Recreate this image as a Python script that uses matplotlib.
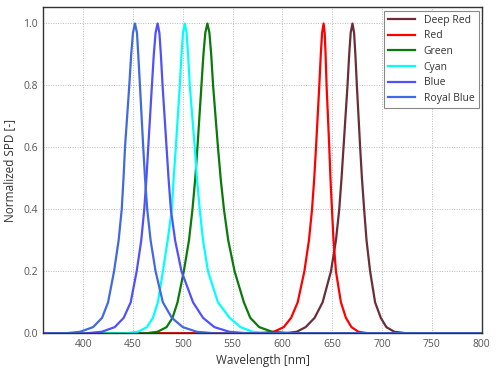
import matplotlib
matplotlib.use("Agg")
import matplotlib.pyplot as plt

plt.rcParams['font.family'] = ['Open Sans', 'DejaVu Sans']

# ---- data (wavelength [nm], normalized SPD) ----
deep_red_wl = [360, 602, 614.3, 623.3, 632.3, 640.3, 648.7, 653.7, 657, 659.3, 661.3, 665.3, 667, 668.5, 670.3,
               671.9, 673.2, 674.7, 678, 679.8, 682, 684.4, 688, 693, 698.7, 704.3, 712.3, 725, 800]
deep_red_v = [0, 0, 0.005, 0.02, 0.05, 0.1, 0.2, 0.3, 0.4, 0.5, 0.6, 0.8, 0.9, 0.97, 1.0,
              0.97, 0.9, 0.8, 0.6, 0.5, 0.4, 0.3, 0.2, 0.1, 0.05, 0.02, 0.005, 0, 0]

red_wl = [360, 576.3, 591.3, 601.3, 608.7, 615.3, 622, 626.6, 629.7, 631.9, 633.7, 637, 638.5, 639.8, 641.3,
          642.4, 643.3, 644.3, 647, 648.2, 649.7, 651.3, 653.7, 658.7, 663.7, 669.3, 676.3, 686, 800]
red_v = [0, 0, 0.005, 0.02, 0.05, 0.1, 0.2, 0.3, 0.4, 0.5, 0.6, 0.8, 0.9, 0.97, 1.0,
         0.97, 0.9, 0.8, 0.6, 0.5, 0.4, 0.3, 0.2, 0.1, 0.05, 0.02, 0.005, 0, 0]

green_wl = [360, 462.7, 474.7, 483.7, 489.7, 494.7, 501, 506.2, 509.7, 512.5, 514.7, 518.7, 520.7, 522.6, 524.7,
            526.7, 528.5, 530.4, 535.3, 538, 541.3, 545.6, 552, 561.3, 567.7, 576.7, 589.7, 610, 800]
green_v = [0, 0, 0.005, 0.02, 0.05, 0.1, 0.2, 0.3, 0.4, 0.5, 0.6, 0.8, 0.9, 0.97, 1.0,
           0.97, 0.9, 0.8, 0.6, 0.5, 0.4, 0.3, 0.2, 0.1, 0.05, 0.02, 0.005, 0, 0]

cyan_wl = [360, 442, 455, 464, 470, 475, 480, 484.8, 489, 490.8, 493, 497, 498.7, 500.2, 502,
           503.8, 505.3, 507, 512, 514.2, 517, 520.3, 525.3, 535.3, 547, 558, 570, 587, 800]
cyan_v = [0, 0, 0.005, 0.02, 0.05, 0.1, 0.2, 0.3, 0.4, 0.5, 0.6, 0.8, 0.9, 0.97, 1.0,
          0.97, 0.9, 0.8, 0.6, 0.5, 0.4, 0.3, 0.2, 0.1, 0.05, 0.02, 0.005, 0, 0]

blue_wl = [360, 402.7, 418.7, 431.7, 440.7, 447.7, 453.7, 458.3, 461.3, 463.5, 465.3, 469, 470.9, 472.7, 474.7,
           476.5, 478, 479.7, 483.7, 485.7, 488, 492.3, 498.7, 510.3, 520.3, 531.7, 546.7, 565, 800]
blue_v = [0, 0, 0.005, 0.02, 0.05, 0.1, 0.2, 0.3, 0.4, 0.5, 0.6, 0.8, 0.9, 0.97, 1.0,
          0.97, 0.9, 0.8, 0.6, 0.5, 0.4, 0.3, 0.2, 0.1, 0.05, 0.02, 0.005, 0, 0]

royal_wl = [360, 382, 397, 410, 419, 425, 431, 435.6, 438.7, 440.5, 442, 446.3, 448.2, 450, 452,
            454, 455.3, 457, 460.3, 462.1, 464.3, 467.7, 472.7, 480, 489, 500, 514, 532, 800]
royal_v = [0, 0, 0.005, 0.02, 0.05, 0.1, 0.2, 0.3, 0.4, 0.5, 0.6, 0.8, 0.9, 0.97, 1.0,
           0.97, 0.9, 0.8, 0.6, 0.5, 0.4, 0.3, 0.2, 0.1, 0.05, 0.02, 0.005, 0, 0]

series = [
    ("Deep Red", deep_red_wl, deep_red_v, "#6b2d38"),
    ("Red", red_wl, red_v, "#ff0000"),
    ("Green", green_wl, green_v, "#0a7a0a"),
    ("Cyan", cyan_wl, cyan_v, "#00ffff"),
    ("Blue", blue_wl, blue_v, "#5050ff"),
    ("Royal Blue", royal_wl, royal_v, "#4169e1"),
]

x_ticks = [400, 450, 500, 550, 600, 650, 700, 750, 800]
y_ticks = [0.0, 0.2, 0.4, 0.6, 0.8, 1.0]

fig = plt.figure(figsize=(4.96, 3.69), dpi=100)
ax = fig.add_axes([0.0873, 0.0967, 0.9712 - 0.0873, 0.980 - 0.0967])

for name, wl, v, c in series:
    ax.plot(wl, v, color=c, lw=1.6, label=name, solid_joinstyle="round")

ax.set_xlim(360, 800)
ax.set_ylim(0, 1.052)
ax.set_xticks(x_ticks)
ax.set_yticks(y_ticks)
ax.set_yticklabels([f"{t:.1f}" for t in y_ticks])
ax.tick_params(length=0, labelsize=7.5, colors="#555555", pad=4)
ax.grid(True, color="#bbbbbb", linestyle=(0, (1, 1.5)), lw=0.7)
ax.set_axisbelow(True)
for s in ax.spines.values():
    s.set_color("#333333")
    s.set_linewidth(1.0)

ax.set_xlabel("Wavelength [nm]", fontsize=8.5, color="#333333", labelpad=3)
ax.set_ylabel("Normalized SPD [-]", fontsize=8.5, color="#333333", labelpad=5)

leg = ax.legend(loc="upper right", fontsize=7.5, frameon=True, fancybox=False,
                edgecolor="#888888", framealpha=1, borderaxespad=0.3,
                handlelength=2.6, labelspacing=0.45, borderpad=0.4)
leg.get_frame().set_linewidth(0.8)
for t in leg.get_texts():
    t.set_color("#333333")

fig.savefig("out.png", dpi=100)
